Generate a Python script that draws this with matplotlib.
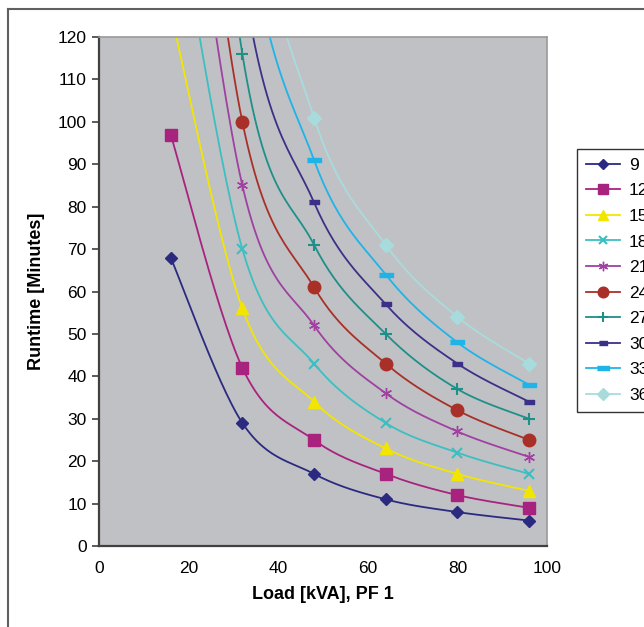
import numpy as np
import matplotlib
matplotlib.use("Agg")
import matplotlib.pyplot as plt
from matplotlib.lines import Line2D

plt.rcParams['font.family'] = ['Liberation Sans', 'DejaVu Sans']

# load points [kVA]
load = [16, 32, 48, 64, 80, 96]

# runtime [minutes] per battery count; first values above 120 are off the chart (estimated)
series_names = ["9", "12", "15", "18", "21", "24", "27", "30", "33", "36"]
rt_9 = [68, 29, 17, 11, 8, 6]
rt_12 = [97, 42, 25, 17, 12, 9]
rt_15 = [126, 56, 34, 23, 17, 13]
rt_18 = [160, 70, 43, 29, 22, 17]
rt_21 = [197, 85, 52, 36, 27, 21]
rt_24 = [225, 100, 61, 43, 32, 25]
rt_27 = [280, 116, 71, 50, 37, 30]
rt_30 = [310, 135, 81, 57, 43, 34]
rt_33 = [350, 156, 91, 64, 48, 38]
rt_36 = [390, 176, 101, 71, 54, 43]
runtimes = [rt_9, rt_12, rt_15, rt_18, rt_21, rt_24, rt_27, rt_30, rt_33, rt_36]

colors = ["#2b2a80", "#a8237e", "#f2e600", "#3cbfc0", "#a040a0",
          "#a83028", "#1e9088", "#3a3088", "#1eb4e8", "#a8dcdc"]

bar_short = [(-1, -0.45), (1, -0.45), (1, 0.45), (-1, 0.45)]
bar_long = [(-1, -0.3), (1, -0.3), (1, 0.3), (-1, 0.3)]
markers = ["D", "s", "^", "x", (6, 2, 0), "o", "+", bar_short, bar_long, "D"]
msizes = [6, 8, 8, 7, 8, 9, 8, 7, 10, 7]


def smooth(xs, ys, n=30):
    # excel style smoothed line (bezier with catmull-rom control points)
    p = np.column_stack([xs, ys]).astype(float)
    pts = np.vstack([p[0], p, p[-1]])
    out = []
    for i in range(1, len(pts) - 2):
        p0, p1, p2, p3 = pts[i - 1], pts[i], pts[i + 1], pts[i + 2]
        c1 = p1 + (p2 - p0) / 6
        c2 = p2 - (p3 - p1) / 6
        t = np.linspace(0, 1, n)[:, None]
        seg = ((1 - t) ** 3) * p1 + 3 * ((1 - t) ** 2) * t * c1 + 3 * (1 - t) * t ** 2 * c2 + t ** 3 * p2
        out.append(seg)
    s = np.vstack(out)
    return s[:, 0], s[:, 1]


fig = plt.figure(figsize=(6.44, 6.27), dpi=100)
ax = fig.add_axes([99 / 644, 1 - 546 / 627, 448 / 644, 509 / 627])
ax.set_facecolor("#c0c1c5")

handles = []
for name, ys, c, m, ms in zip(series_names, runtimes, colors, markers, msizes):
    sx, sy = smooth(load, ys)
    ax.plot(sx, sy, color=c, lw=1.3)
    ax.plot(load, ys, ls="none", marker=m, color=c, markersize=ms,
            markeredgewidth=1.5 if m in ("x", "+") else 1)
    handles.append(Line2D([0], [0], color=c, lw=1.3, marker=m, markersize=ms * 0.85,
                          markeredgewidth=1.5 if m in ("x", "+") else 1))

ax.set_xlim(0, 100)
ax.set_ylim(0, 120)
ax.set_xticks(np.arange(0, 101, 20))
ax.set_yticks(np.arange(0, 121, 10))
ax.tick_params(axis="y", direction="out", length=5, width=1.2, color="#404040",
               labelsize=12.5, pad=4)
ax.tick_params(axis="x", length=0, labelsize=12.5, pad=11)

for side in ["top", "right"]:
    ax.spines[side].set_color("#9a9a9a")
    ax.spines[side].set_linewidth(1.2)
for side in ["left", "bottom"]:
    ax.spines[side].set_color("#404040")
    ax.spines[side].set_linewidth(1.6)

ax.set_xlabel("Load [kVA], PF 1", fontsize=13, fontweight="bold", labelpad=7)
ax.set_ylabel("Runtime [Minutes]", fontsize=13, fontweight="bold", labelpad=9)

leg = fig.legend(handles, series_names, loc="upper left",
                 bbox_to_anchor=(577 / 644, 1 - 149 / 627),
                 frameon=True, fancybox=False, fontsize=12.5,
                 handlelength=2.0, handletextpad=0.5, labelspacing=0.6,
                 borderpad=0.5, borderaxespad=0)
leg.get_frame().set_edgecolor("#000000")
leg.get_frame().set_linewidth(1.0)

# outer chart border (left and top edges visible)
fig.add_artist(Line2D([8 / 644, 8 / 644], [0, 1 - 9 / 627], transform=fig.transFigure,
                      color="#606060", lw=1.5))
fig.add_artist(Line2D([8 / 644, 1], [1 - 9 / 627, 1 - 9 / 627], transform=fig.transFigure,
                      color="#606060", lw=1.5))

fig.savefig("out.png", dpi=100)
